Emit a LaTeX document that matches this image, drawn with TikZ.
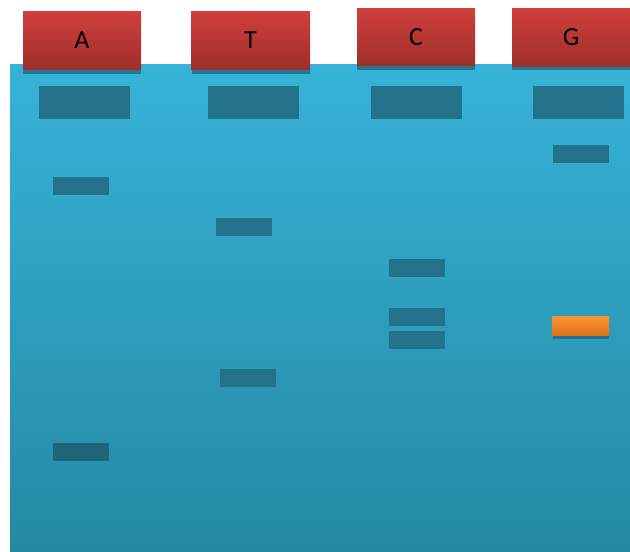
\documentclass[tikz,border=0pt]{standalone}
\usepackage{fontspec}
\setmainfont{Carlito}
\definecolor{gelTop}{HTML}{37B3D8}
\definecolor{gelBot}{HTML}{2589A3}
\definecolor{redTop}{HTML}{D13F3B}
\definecolor{redBot}{HTML}{9E2F2C}
\definecolor{band}{HTML}{23718A}
\definecolor{bandDark}{HTML}{1F6479}
\definecolor{shadowC}{HTML}{23788F}
\definecolor{orTop}{HTML}{FB9430}
\definecolor{orBot}{HTML}{E0731C}
\begin{document}
\begin{tikzpicture}[x=1pt,y=-1pt,
  lanelabel/.style={inner sep=0pt,text=black,font=\fontsize{26}{26}\selectfont},
  lanebox/.style={top color=redTop,bottom color=redBot},
  bandbox/.style={fill=band},
  shadowbox/.style={fill=shadowC}]
\useasboundingbox (0,0) rectangle (630,552);
% gel
\shade[top color=gelTop,bottom color=gelBot] (10,64) rectangle (630,551);
% shadows under lane boxes
\fill[shadowbox] (23,64) rectangle (141,74);
\fill[shadowbox] (192,64) rectangle (310,74);
\fill[shadowbox] (357,64) rectangle (475,70);
\fill[shadowbox] (512,64) rectangle (630,70);
% lane boxes
\shade[lanebox] (23,11) rectangle (141,69);
\node[lanelabel] (lA) at (82,40) {A};
\shade[lanebox] (191,11) rectangle (310,69);
\node[lanelabel] (lT) at (250.5,40) {T};
\shade[lanebox] (357,8) rectangle (475,65);
\node[lanelabel] (lC) at (416,37) {C};
\shade[lanebox] (512,8) rectangle (630,66);
\node[lanelabel] (lG) at (571,37) {G};
% wells
\fill[bandbox] (39,86) rectangle (130,119);
\fill[bandbox] (208,86) rectangle (299,119);
\fill[bandbox] (371,86) rectangle (462,119);
\fill[bandbox] (533,86) rectangle (624,119);
% bands
\fill[bandbox] (53,177) rectangle (109,195);
\fill[fill=bandDark] (53,443) rectangle (109,461);
\fill[bandbox] (216,218) rectangle (272,236);
\fill[bandbox] (220,369) rectangle (276,387);
\fill[bandbox] (389,259) rectangle (445,277);
\fill[bandbox] (389,308) rectangle (445,326);
\fill[bandbox] (389,331) rectangle (445,349);
\fill[bandbox] (553,145) rectangle (609,163);
\fill[bandbox] (553,320) rectangle (609,339);
\shade[top color=orTop,bottom color=orBot] (552,316) rectangle (609,335);
\end{tikzpicture}
\end{document}
